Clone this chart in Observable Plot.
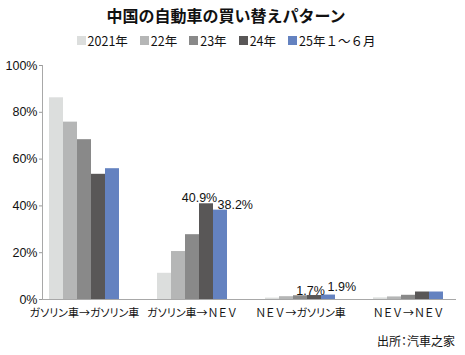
<!DOCTYPE html>
<html>
<head>
<meta charset="utf-8">
<script src="https://cdn.jsdelivr.net/npm/d3@7"></script>
<script src="https://cdn.jsdelivr.net/npm/@observablehq/plot@0.6"></script>
<style>
  body { margin: 0; background: #fff; width: 465px; font-family: "Noto Sans CJK JP", "Noto Sans", sans-serif; color: #111; }
  #title { height: 31px; line-height: 30px; text-align: center; font-size: 16px; font-weight: bold; padding-right: 13px; }
  #legend { height: 19px; display: flex; justify-content: center; align-items: center; gap: 12px; font-size: 12.5px; padding-right: 13px; }
  #legend .item { display: flex; align-items: center; }
  #legend .sw { width: 9px; height: 9px; margin-right: 2px; }
  #caption { text-align: right; font-size: 12px; padding-right: 10px; margin-top: 9px; line-height: 16px; font-feature-settings: "palt"; }
  svg { display: block; }
  g[aria-label="x-axis tick label"] text { font-feature-settings: "palt"; }
  g[aria-label="x-axis tick label"] tspan.fw { font-feature-settings: normal; }
</style>
</head>
<body>
<div id="title">中国の自動車の買い替えパターン</div>
<div id="legend"></div>
<div id="chart"></div>
<div id="caption">出所：汽車之家</div>
<script>
const categories = ["ガソリン車→ガソリン車", "ガソリン車→ＮＥＶ", "ＮＥＶ→ガソリン車", "ＮＥＶ→ＮＥＶ"];
const years = ["2021年", "22年", "23年", "24年", "25年１～６月"];
const colors = ["#dcdedd", "#b5b6b6", "#898989", "#595757", "#6482c0"];
const v2021 = [86.2, 11.2, 0.6, 0.7];
const v2022 = [75.8, 20.5, 1.2, 1.1];
const v2023 = [68.3, 27.7, 1.6, 1.8];
const v2024 = [53.5, 40.9, 1.7, 3.2];
const v2025 = [55.9, 38.2, 1.9, 3.2];
const series = [v2021, v2022, v2023, v2024, v2025];
const yTicks = [0, 20, 40, 60, 80, 100];
const lblCats = ["ガソリン車→ＮＥＶ", "ガソリン車→ＮＥＶ", "ＮＥＶ→ガソリン車", "ＮＥＶ→ガソリン車"];
const lblVals = [40.9, 38.2, 1.7, 1.9];
const lblTexts = ["40.9%", "38.2%", "1.7%", "1.9%"];

// legend
const legend = document.getElementById("legend");
years.forEach((y, k) => {
  const it = document.createElement("div");
  it.className = "item";
  const sw = document.createElement("span");
  sw.className = "sw";
  sw.style.background = colors[k];
  it.appendChild(sw);
  it.appendChild(document.createTextNode(y));
  legend.appendChild(it);
});

const rows = categories.flatMap((c, i) => years.map((y, k) => ({cat: c, year: y, k, value: series[k][i]})));
const labels = lblCats.map((c, i) => ({cat: c, val: lblVals[i], text: lblTexts[i]}));

const barW = 14;
const bars = years.map((y, k) => Plot.barY(rows.filter(d => d.k === k), {
  x: "cat", y: "value", fill: colors[k],
  insetLeft: barW * k, insetRight: barW * (years.length - 1 - k)
}));

const numFont = {fontFamily: "'Liberation Sans', Arial, sans-serif", fontSize: 12.5, fill: "#111"};
const labelSpecs = [
  {dx: 7, dy: -2, textAnchor: "middle"},
  {dx: 25, dy: -1, textAnchor: "start"},
  {dx: 10, dy: -1, textAnchor: "middle"},
  {dx: 27, dy: -4, textAnchor: "start"}
];

const chart = Plot.plot({
  width: 465,
  height: 274,
  marginTop: 15,
  marginBottom: 25,
  marginLeft: 42,
  marginRight: 9,
  style: {fontFamily: "'Noto Sans CJK JP', sans-serif", background: "#fff"},
  x: {domain: categories, paddingInner: 0.356, paddingOuter: 0.082, align: 0.335},
  y: {domain: [0, 100]},
  marks: [
    ...bars,
    Plot.ruleY([0], {stroke: "#a8a8a8"}),
    Plot.frame({anchor: "left", stroke: "#a8a8a8"}),
    Plot.axisY({ticks: yTicks, tickFormat: d => d + "%", tickSize: 3, tickPadding: 2, stroke: "#999", label: null, ...numFont}),
    Plot.axisX({tickSize: 0, tickPadding: 10, label: null, fontSize: 11, fill: "#111"}),
    ...labels.map((l, i) => Plot.text([l], {x: "cat", y: "val", text: "text", lineAnchor: "bottom", ...labelSpecs[i], ...numFont}))
  ]
});
document.getElementById("chart").appendChild(chart);

// keep full-width letters (ＮＥＶ) at full width while katakana use proportional widths
d3.select(chart).selectAll('g[aria-label="x-axis tick label"] text').each(function() {
  const t = d3.select(this);
  const s = t.text();
  const parts = s.split(/([Ｎ-Ｖ]+)/).filter(p => p.length);
  t.text(null);
  parts.forEach(p => {
    t.append("tspan").attr("class", /^[Ｎ-Ｖ]+$/.test(p) ? "fw" : null).text(p);
  });
});
</script>
</body>
</html>
